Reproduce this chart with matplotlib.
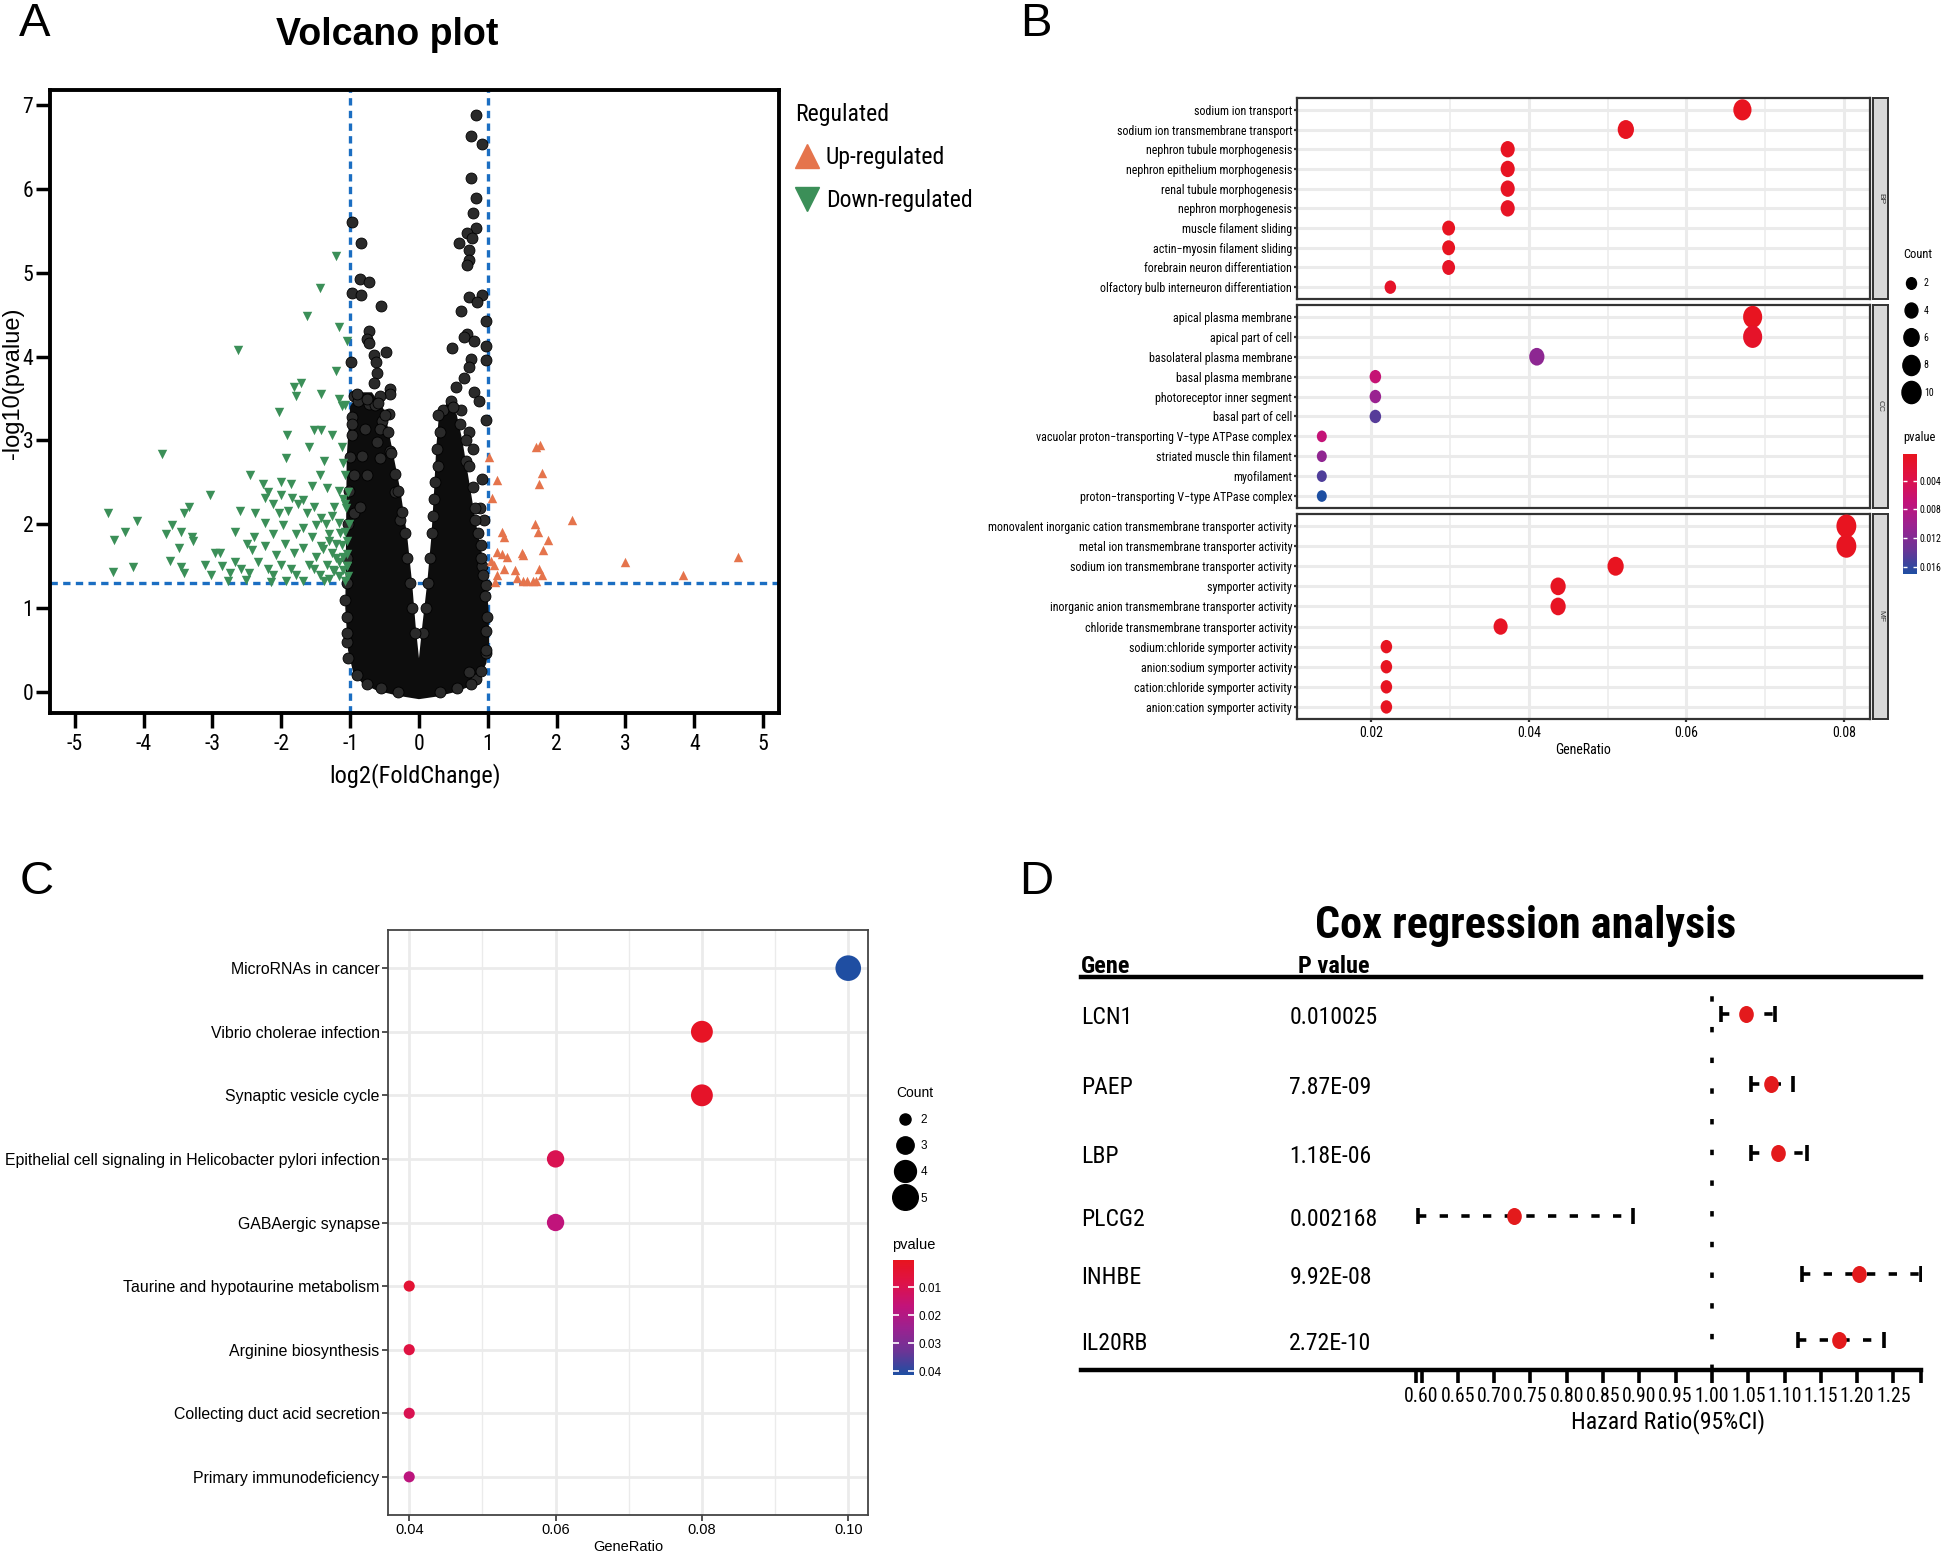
import numpy as np
import matplotlib
matplotlib.use('Agg')
import matplotlib.pyplot as plt
from matplotlib import font_manager
from matplotlib.font_manager import FontProperties
from matplotlib.colors import LinearSegmentedColormap, Normalize
from matplotlib.cm import ScalarMappable
from matplotlib.lines import Line2D
from matplotlib.markers import MarkerStyle
from matplotlib.path import Path
from matplotlib.transforms import Affine2D, blended_transform_factory

plt.rcParams['font.family'] = 'Liberation Sans'
plt.rcParams['axes.unicode_minus'] = False


def pick_narrow():
    # look for a narrow / condensed sans, the source figure uses one
    fl = font_manager.fontManager.ttflist
    for name, k in [('Liberation Sans Narrow', 1.0), ('Arial Narrow', 1.0), ('Roboto Condensed', 0.95)]:
        if any(f.name == name for f in fl):
            return {'family': name}, k
    for fam, k in [('Noto Sans', 0.93), ('Open Sans', 0.9), ('DejaVu Sans', 0.85), ('Roboto', 0.95)]:
        if any(f.name == fam and f.stretch == 'condensed' for f in fl):
            return {'family': fam, 'stretch': 'condensed'}, k
    for f in fl:
        if ('Condensed' in f.name or 'Narrow' in f.name) and 'Mono' not in f.name:
            return {'family': f.name}, 0.92
    return {'family': 'Liberation Sans'}, 0.82


NF, SQ = pick_narrow()


def nf(size, weight='normal'):
    return FontProperties(size=size * SQ, weight=weight, **NF)


# ---------------- A: volcano ----------------
# outline of the dense black cloud (non significant genes)
cloud_x = [0.0, 0.25, 0.5, 0.7, 0.85, 0.95, 0.99, 0.98, 0.92, 0.8, 0.7, 0.6, 0.52, 0.42, 0.32, 0.28,
           0.25, 0.21, 0.15, 0.08, 0.03, 0.0, -0.03, -0.08, -0.13, -0.2, -0.3, -0.42, -0.53, -0.7,
           -0.85, -0.97, -1.02, -1.03, -1.04, -1.0, -0.93, -0.8, -0.6, -0.3]
cloud_y = [-0.06, -0.03, 0.02, 0.08, 0.18, 0.35, 0.6, 1.0, 1.5, 2.0, 2.5, 3.0, 3.3, 3.42, 3.3, 2.9,
           2.4, 1.85, 1.3, 0.8, 0.4, 0.25, 0.4, 0.8, 1.3, 1.85, 2.4, 2.9, 3.35, 3.55, 3.55, 3.4,
           2.8, 1.8, 1.0, 0.5, 0.25, 0.12, 0.04, -0.02]
# single non significant points, outliers and the ragged edge of the cloud
ns_x = [0.83, 0.76, 0.91, 0.76, 0.83, 0.78, 0.83, 0.70, 0.77, 0.58, 0.72, 0.72, 0.70, 0.91, 0.72,
        0.85, 0.97, 0.61, 0.48, 0.70, 0.65, 0.80, 0.98, 0.98, 0.76, 0.72, 0.65, 0.54, 0.80, 0.87,
        0.46, 0.98, 0.35, 0.61, 0.91, 0.94, 0.91, 0.98, 0.98, 0.98, 0.83, 0.72, 0.78, 0.72, 0.68,
        0.88, 0.82, 0.90, 0.97, 0.99, 0.96, 0.93,
        -0.98, -0.84, -0.86, -0.73, -0.98, -0.84, -0.55, -0.73, -0.75, -0.72, -0.48, -0.66, -0.99,
        -0.63, -0.61, -0.66, -0.42, -0.42, -0.94, -0.89, -0.57, -0.72, -0.64, -0.97, -0.44, -0.53,
        -0.79, -0.57, -0.97, -0.61, -0.42, -0.83, -0.94, -0.57, -0.75, -0.35, -0.94, -0.27, -0.86,
        -1.05, -1.07, -1.04,
        0.28, 0.30, 0.26, 0.27, 0.24, 0.22, 0.20, 0.19, 0.16, 0.13, 0.10, 0.06,
        -0.50, -0.45, -0.40, -0.35, -0.30, -0.25, -0.20, -0.17, -0.13, -0.10, -0.06,
        0.90, 0.86, 0.82, 0.78, 0.72, 0.68, 0.60, 0.50,
        -0.90, -0.75, -0.55, -0.30, 0.30, 0.55, 0.75, 0.90,
        -1.03, -1.04, -1.05, -1.04, -1.03, -1.02, -1.00, -0.98, -0.60, -0.75, -0.90]
ns_y = [6.88, 6.63, 6.54, 6.13, 5.89, 5.71, 5.53, 5.47, 5.42, 5.35, 5.27, 5.15, 5.09, 4.73, 4.71,
        4.65, 4.43, 4.54, 4.10, 4.27, 4.24, 4.19, 4.13, 3.96, 3.97, 3.88, 3.75, 3.64, 3.58, 3.47,
        3.47, 3.25, 3.36, 3.36, 2.54, 2.05, 1.50, 1.28, 0.73, 0.46, 0.15, 0.24, 2.9, 3.1, 2.75,
        2.2, 2.05, 1.75, 0.5, 0.9, 1.15, 1.4,
        5.60, 5.36, 4.92, 4.89, 4.76, 4.73, 4.60, 4.30, 4.21, 4.16, 4.06, 4.02, 3.94,
        3.94, 3.80, 3.69, 3.61, 3.55, 3.53, 3.47, 3.53, 3.44, 3.42, 3.28, 3.31, 3.23,
        3.14, 3.14, 3.06, 2.98, 2.87, 2.81, 2.59, 2.79, 2.59, 2.38, 2.13, 2.05, 2.21,
        0.9, 1.1, 0.6,
        3.30, 3.10, 2.90, 2.70, 2.50, 2.30, 2.10, 1.90, 1.60, 1.30, 1.00, 0.70,
        3.30, 3.10, 2.85, 2.60, 2.40, 2.15, 1.90, 1.60, 1.30, 1.00, 0.70,
        1.60, 1.90, 2.20, 2.45, 2.70, 3.00, 3.20, 3.40,
        0.20, 0.10, 0.05, 0.00, 0.00, 0.05, 0.10, 0.25,
        0.40, 0.70, 1.30, 1.60, 2.00, 2.40, 2.80, 3.20, 3.45, 3.50, 3.55]
# down-regulated genes
down_x = [-1.20, -1.44, -1.63, -1.16, -1.05, -2.63, -1.20, -1.71, -1.81, -1.42, -1.78, -1.16, -1.07,
          -1.12, -2.04, -1.53, -1.42, -1.27, -1.91, -1.60, -1.12, -3.74, -1.38, -1.93, -1.10, -1.44,
          -2.46, -1.08, -2.27, -2.01, -1.86, -1.56, -1.34, -1.16, -1.03, -2.19, -2.01, -1.84, -1.68,
          -2.23, -3.04, -3.34, -2.12, -1.76, -1.53, -1.23, -1.08, -3.41, -4.52, -2.60, -2.38, -2.04,
          -1.90, -1.62, -1.42, -1.27, -4.09, -3.59, -2.23, -1.97, -1.68, -1.49, -1.16, -4.27, -3.45,
          -2.67, -2.12, -1.79, -1.56, -1.31, -1.08, -3.67, -3.30, -2.39, -4.43, -3.28, -2.50, -2.23,
          -1.95, -1.68, -1.42, -1.20, -1.05, -3.48, -2.97, -2.89, -2.43, -2.08, -1.82, -1.49, -1.27,
          -1.10, -3.62, -3.11, -2.67, -2.34, -2.01, -1.60, -1.34, -1.16, -4.16, -3.45, -2.86, -2.58,
          -2.19, -1.86, -1.53, -1.23, -1.04, -4.44, -3.41, -3.02, -2.75, -2.47, -2.12, -1.79, -1.44,
          -1.16, -2.77, -2.52, -2.15, -1.93, -1.68, -1.38, -1.08,
          -1.05, -1.05, -1.12, -1.02, -1.06, -1.10, -1.15, -1.20, -1.25, -1.03, -1.10, -1.30, -1.30,
          -1.35, -1.40]
down_y = [5.20, 4.82, 4.49, 4.35, 4.19, 4.08, 3.83, 3.69, 3.64, 3.55, 3.53, 3.50, 3.42,
          3.41, 3.34, 3.12, 3.12, 3.06, 3.06, 2.92, 2.92, 2.84, 2.76, 2.79, 2.73, 2.59,
          2.59, 2.59, 2.48, 2.51, 2.48, 2.46, 2.43, 2.40, 2.38, 2.38, 2.35, 2.32, 2.29,
          2.32, 2.35, 2.21, 2.24, 2.24, 2.21, 2.21, 2.24, 2.13, 2.13, 2.16, 2.13, 2.13,
          2.16, 2.13, 2.07, 2.10, 2.04, 1.99, 2.02, 1.99, 1.96, 1.99, 2.02, 1.91, 1.91,
          1.91, 1.88, 1.88, 1.85, 1.88, 1.91, 1.88, 1.85, 1.85, 1.81, 1.80, 1.77, 1.74,
          1.77, 1.72, 1.74, 1.77, 1.80, 1.72, 1.66, 1.66, 1.69, 1.63, 1.66, 1.61, 1.66,
          1.61, 1.56, 1.52, 1.55, 1.55, 1.52, 1.52, 1.52, 1.55, 1.49, 1.49, 1.50, 1.47,
          1.47, 1.47, 1.47, 1.44, 1.50, 1.43, 1.42, 1.40, 1.42, 1.42, 1.39, 1.39, 1.39,
          1.38, 1.33, 1.34, 1.31, 1.33, 1.32, 1.32, 1.33,
          1.50, 1.65, 1.75, 2.00, 2.20, 2.30, 1.90, 1.60, 1.45, 1.38, 1.45, 1.35, 1.80,
          2.00, 1.70]
# up-regulated genes
up_x = [1.70, 1.76, 1.02, 1.13, 1.78, 1.74, 1.06, 2.22, 1.69, 1.73, 1.20, 1.24, 1.88, 1.80, 1.13,
        1.20, 1.50, 1.51, 1.28, 1.04, 4.63, 2.99, 1.09, 1.74, 1.24, 1.39, 1.13, 3.84, 1.78, 1.42,
        1.65, 1.57, 1.51, 1.11, 1.70]
up_y = [2.92, 2.95, 2.80, 2.53, 2.61, 2.48, 2.31, 2.05, 2.00, 1.91, 1.91, 1.85, 1.81, 1.69, 1.67,
        1.65, 1.66, 1.63, 1.61, 1.56, 1.61, 1.55, 1.52, 1.47, 1.47, 1.45, 1.40, 1.40, 1.39, 1.36,
        1.33, 1.33, 1.32, 1.31, 1.33]
fc_cut = 1.0
p_cut = 1.3

# ---------------- B: GO dot plot ----------------
bp_terms = ['sodium ion transport', 'sodium ion transmembrane transport', 'nephron tubule morphogenesis',
            'nephron epithelium morphogenesis', 'renal tubule morphogenesis', 'nephron morphogenesis',
            'muscle filament sliding', 'actin\u2212myosin filament sliding',
            'forebrain neuron differentiation', 'olfactory bulb interneuron differentiation']
bp_ratio = [0.0671, 0.0523, 0.0373, 0.0373, 0.0373, 0.0373, 0.0298, 0.0298, 0.0298, 0.0224]
bp_count = [9, 7, 5, 5, 5, 5, 4, 4, 4, 3]
bp_p = [0.0004, 0.0005, 0.0006, 0.0006, 0.0007, 0.0008, 0.0005, 0.0005, 0.0009, 0.0012]

cc_terms = ['apical plasma membrane', 'apical part of cell', 'basolateral plasma membrane',
            'basal plasma membrane', 'photoreceptor inner segment', 'basal part of cell',
            'vacuolar proton\u2212transporting V\u2212type ATPase complex', 'striated muscle thin filament',
            'myofilament', 'proton\u2212transporting V\u2212type ATPase complex']
cc_ratio = [0.0684, 0.0684, 0.0410, 0.0205, 0.0205, 0.0205, 0.0137, 0.0137, 0.0137, 0.0137]
cc_count = [10, 10, 6, 3, 3, 3, 2, 2, 2, 2]
cc_p = [0.0004, 0.0012, 0.0112, 0.0066, 0.0104, 0.0145, 0.0068, 0.0110, 0.0148, 0.0170]

mf_terms = ['monovalent inorganic cation transmembrane transporter activity',
            'metal ion transmembrane transporter activity', 'sodium ion transmembrane transporter activity',
            'symporter activity', 'inorganic anion transmembrane transporter activity',
            'chloride transmembrane transporter activity', 'sodium:chloride symporter activity',
            'anion:sodium symporter activity', 'cation:chloride symporter activity',
            'anion:cation symporter activity']
mf_ratio = [0.0803, 0.0803, 0.0510, 0.0437, 0.0437, 0.0364, 0.0219, 0.0219, 0.0219, 0.0219]
mf_count = [11, 11, 7, 6, 6, 5, 3, 3, 3, 3]
mf_p = [0.0004, 0.0005, 0.0004, 0.0006, 0.0007, 0.0008, 0.0005, 0.0005, 0.0006, 0.0006]

go_p_range = (0.0003, 0.0170)
go_p_ticks = [0.004, 0.008, 0.012, 0.016]
go_count_legend = [2, 4, 6, 8, 10]

# ---------------- C: KEGG dot plot ----------------
kegg_terms = ['MicroRNAs in cancer', 'Vibrio cholerae infection', 'Synaptic vesicle cycle',
              'Epithelial cell signaling in Helicobacter pylori infection', 'GABAergic synapse',
              'Taurine and hypotaurine metabolism', 'Arginine biosynthesis',
              'Collecting duct acid secretion', 'Primary immunodeficiency']
kegg_ratio = [0.10, 0.08, 0.08, 0.06, 0.06, 0.04, 0.04, 0.04, 0.04]
kegg_count = [5, 4, 4, 3, 3, 2, 2, 2, 2]
kegg_p = [0.0410, 0.0015, 0.0025, 0.0100, 0.0170, 0.0045, 0.0075, 0.0100, 0.0180]
kegg_p_range = (0.0003, 0.0413)
kegg_p_ticks = [0.01, 0.02, 0.03, 0.04]
kegg_count_legend = [2, 3, 4, 5]

# ---------------- D: Cox regression ----------------
genes = ['LCN1', 'PAEP', 'LBP', 'PLCG2', 'INHBE', 'IL20RB']
pvals_txt = ['0.010025', '7.87E-09', '1.18E-06', '0.002168', '9.92E-08', '2.72E-10']
hr = np.array([1.047, 1.082, 1.091, 0.727, 1.202, 1.175])
hr_lo = np.array([1.012, 1.054, 1.054, 0.595, 1.124, 1.118])
hr_hi = np.array([1.087, 1.112, 1.131, 0.891, 1.288, 1.237])
hr_ticks = np.round(np.arange(0.60, 1.2501, 0.05), 2)
# row positions of the forest plot (the rows are not evenly spaced in the source)
row_y = np.array([0.0, 1.08, 2.13, 3.10, 3.99, 5.0])

# ---------------- drawing ----------------
W, H = 1944, 1568
fig = plt.figure(figsize=(W / 100, H / 100), dpi=100)


def box(l, t, r, b):
    return [l / W, 1 - b / H, (r - l) / W, (b - t) / H]


# tall ellipse marker, the source image is squeezed sideways
ELL = MarkerStyle(Path.unit_circle().transformed(Affine2D().scale(0.86, 1.0)))

cmap = LinearSegmentedColormap.from_list(
    'pv', ['#E8141F', '#DE1248', '#C2137A', '#9A2290', '#6A3596', '#1D4FA2'])

# panel letters
for lab, x, y in [('A', 35, 24), ('B', 1036, 24), ('C', 37, 882), ('D', 1036, 882)]:
    fig.text(x / W, 1 - y / H, lab, fontsize=34, ha='center', va='center')

# ---- A ----
axA = fig.add_axes(box(50, 90, 779, 713))
axA.fill(cloud_x, cloud_y, color='#0d0d0d', lw=3, zorder=2)
axA.scatter(ns_x, ns_y, s=62, c='#2a2a2a', edgecolors='black', linewidths=0.6, zorder=3)
axA.scatter(down_x, down_y, marker='v', s=46, c='#3b8f58', lw=0, zorder=3)
axA.scatter(up_x, up_y, marker='^', s=46, c='#e5744c', lw=0, zorder=3)
for v in (-fc_cut, fc_cut):
    axA.axvline(v, color='#1b6ec2', lw=2.4, ls=(0, (2.2, 1.6)), zorder=1)
axA.axhline(p_cut, color='#1b6ec2', lw=2.4, ls=(0, (2.2, 1.6)), zorder=1)
axA.set_xlim(-5.36, 5.23)
axA.set_ylim(-0.25, 7.18)
axA.set_xticks(range(-5, 6))
axA.set_yticks(range(0, 8))
for s in axA.spines.values():
    s.set_linewidth(2.8)
axA.tick_params(width=2.5, length=11, pad=4)
axA.tick_params(axis='y', length=10, pad=2)
for t in axA.get_xticklabels() + axA.get_yticklabels():
    t.set_fontproperties(nf(16.5))
axA.set_xlabel('log2(FoldChange)', fontproperties=nf(18.5), labelpad=6)
axA.set_ylabel('-log10(pvalue)', fontsize=17)
axA.yaxis.set_label_coords(-0.036, 0.53)
fig.text(387 / W, 1 - 35 / H, 'Volcano plot', fontsize=27, weight='bold', ha='center', va='center')

legA = [Line2D([], [], ls='', marker='^', ms=17, color='#e5744c'),
        Line2D([], [], ls='', marker='v', ms=17, color='#3b8f58')]
fig.legend(legA, ['Up-regulated', 'Down-regulated'], title='Regulated', loc='upper left',
           bbox_to_anchor=(783 / W, 1 - 91 / H), frameon=False, alignment='left',
           prop=nf(18), title_fontproperties=nf(18),
           handletextpad=0.3, handlelength=1.0, labelspacing=0.85, borderpad=0)

# ---- B ----
normB = Normalize(*go_p_range)


def size_b(c):
    return 70 + (np.asarray(c) - 2) * (255 - 70) / 8


groups = [('BP', bp_terms, bp_ratio, bp_count, bp_p, 98, 299),
          ('CC', cc_terms, cc_ratio, cc_count, cc_p, 305, 508),
          ('MF', mf_terms, mf_ratio, mf_count, mf_p, 514, 719)]
for i, (lab, terms, ratio, count, p, t, b) in enumerate(groups):
    ax = fig.add_axes(box(1297, t, 1870, b))
    y = np.arange(len(terms))
    ax.scatter(ratio, y, s=size_b(count), c=p, cmap=cmap, norm=normB, marker=ELL, lw=0, zorder=3)
    ax.set_xlim(0.01055, 0.0833)
    ax.set_ylim(len(terms) - 0.4, -0.6)
    ax.set_yticks(y)
    ax.set_yticklabels(terms, fontproperties=nf(9.1))
    ax.set_xticks([0.02, 0.04, 0.06, 0.08])
    ax.set_xticks([0.03, 0.05, 0.07], minor=True)
    ax.grid(which='major', color='#ebebeb', lw=2.2)
    ax.grid(which='minor', axis='x', color='#ebebeb', lw=1.1)
    ax.set_axisbelow(True)
    for s in ax.spines.values():
        s.set_linewidth(1.6)
        s.set_color('#333333')
    ax.tick_params(axis='y', length=2.5, width=1.6, color='#333333', pad=1)
    ax.tick_params(axis='x', which='minor', length=0)
    if i < 2:
        ax.tick_params(axis='x', which='both', bottom=False, labelbottom=False)
    else:
        ax.tick_params(axis='x', length=2.5, width=1.6, color='#333333', pad=2.5)
        ax.set_xticklabels(['0.02', '0.04', '0.06', '0.08'], fontproperties=nf(10.5))
        ax.set_xlabel('GeneRatio', fontproperties=nf(10.5), labelpad=2)
    sax = fig.add_axes(box(1873, t, 1888, b))
    sax.set_facecolor('#d9d9d9')
    sax.set_xticks([])
    sax.set_yticks([])
    for s in sax.spines.values():
        s.set_linewidth(1.4)
        s.set_color('#333333')
    sax.text(0.5, 0.5, lab, rotation=-90, ha='center', va='center', fontsize=6, color='#333333',
             transform=sax.transAxes)

legB = [Line2D([], [], ls='', marker=ELL, color='black', ms=np.sqrt(size_b(c))) for c in go_count_legend]
fig.legend(legB, [str(c) for c in go_count_legend], title='Count', loc='upper left',
           bbox_to_anchor=(1898 / W, 1 - 243 / H), frameon=False, alignment='left',
           prop=nf(7.5), title_fontproperties=nf(9.5),
           handletextpad=0.5, handlelength=1.6, labelspacing=1.75, borderpad=0)

fig.text(1903 / W, 1 - 438 / H, 'pvalue', fontproperties=nf(9.5), va='center')
caxB = fig.add_axes(box(1903, 454, 1917, 574))
cbB = fig.colorbar(ScalarMappable(norm=normB, cmap=cmap), cax=caxB, ticks=go_p_ticks)
caxB.invert_yaxis()
cbB.outline.set_visible(False)
caxB.yaxis.set_ticks_position('both')
caxB.tick_params(direction='in', color='white', length=3, width=1, pad=2)
caxB.set_yticklabels([str(v) for v in go_p_ticks], fontproperties=nf(7.5))

# ---- C ----
normC = Normalize(*kegg_p_range)


def size_c(c):
    return 64 + (np.asarray(c) - 2) * (340 - 64) / 3


axC = fig.add_axes(box(388, 930, 868, 1515))
yc = np.arange(len(kegg_terms))
axC.scatter(kegg_ratio, yc, s=size_c(kegg_count), c=kegg_p, cmap=cmap, norm=normC, lw=0, zorder=3)
axC.set_xlim(0.0371, 0.1027)
axC.set_ylim(len(kegg_terms) - 0.4, -0.6)
axC.set_yticks(yc)
axC.set_yticklabels(kegg_terms, fontsize=11.4)
axC.set_xticks([0.04, 0.06, 0.08, 0.10])
axC.set_xticklabels(['0.04', '0.06', '0.08', '0.10'], fontsize=10.5)
axC.set_xticks([0.05, 0.07, 0.09], minor=True)
axC.grid(which='major', color='#ebebeb', lw=2.0)
axC.grid(which='minor', axis='x', color='#ebebeb', lw=1.0)
axC.set_axisbelow(True)
for s in axC.spines.values():
    s.set_linewidth(1.3)
    s.set_color('#444444')
axC.tick_params(length=4, width=1.2, color='#333333', pad=2)
axC.tick_params(which='minor', length=0)
axC.set_xlabel('GeneRatio', fontsize=10.5, labelpad=2)

legC = [Line2D([], [], ls='', marker='o', color='black', ms=np.sqrt(size_c(c))) for c in kegg_count_legend]
fig.legend(legC, [str(c) for c in kegg_count_legend], title='Count', loc='upper left',
           bbox_to_anchor=(890 / W, 1 - 1080 / H), frameon=False, alignment='left',
           prop={'size': 8.5}, title_fontproperties={'size': 10},
           handletextpad=0.5, handlelength=1.6, labelspacing=1.2, borderpad=0)
fig.text(892 / W, 1 - 1245 / H, 'pvalue', fontsize=10.5, va='center')
caxC = fig.add_axes(box(893, 1260, 914, 1375))
cbC = fig.colorbar(ScalarMappable(norm=normC, cmap=cmap), cax=caxC, ticks=kegg_p_ticks)
caxC.invert_yaxis()
cbC.outline.set_visible(False)
caxC.yaxis.set_ticks_position('both')
caxC.tick_params(direction='in', color='white', length=4, width=1.2, labelsize=8.5, pad=3)
caxC.set_yticklabels([str(v) for v in kegg_p_ticks])

# ---- D ----
axD = fig.add_axes(box(1081, 977, 1921, 1370))
axD.set_xlim(0.131, 1.288)
axD.set_ylim(5.46, -0.567)
axD.axvline(1.0, color='black', lw=2.6, ls=(0, (1.5, 7.0)), zorder=1)
eb = axD.errorbar(hr, row_y, xerr=[hr - hr_lo, hr_hi - hr], fmt='none', ecolor='black',
                  elinewidth=2.6, capsize=5.5, capthick=2.6, zorder=2)
eb.lines[2][0].set_linestyle((0, (2.3, 3.7)))
axD.scatter(hr, row_y, marker=ELL, s=150, c='#e31a1c', lw=0, zorder=4)
for s in ('left', 'right'):
    axD.spines[s].set_visible(False)
for s in ('top', 'bottom'):
    axD.spines[s].set_linewidth(3.2)
axD.set_yticks([])
axD.set_xticks(hr_ticks)
axD.set_xticklabels(['%.2f' % v for v in hr_ticks], fontproperties=nf(15))
axD.set_xticks([0.593, 1.288], minor=True)
axD.tick_params(axis='x', which='both', length=9, width=2.6, pad=3)
axD.set_xlabel('Hazard Ratio(95%CI)', fontproperties=nf(18), labelpad=2)
axD.xaxis.set_label_coords(0.699, -0.1)
tr = blended_transform_factory(axD.transAxes, axD.transData)
for r, g, pv in zip(row_y, genes, pvals_txt):
    axD.text(0.0, r + 0.05, g, transform=tr, fontproperties=nf(18), va='center', ha='left')
    axD.text(0.248, r + 0.05, pv, transform=tr, fontproperties=nf(18), va='center', ha='left')
axD.text(0.0, 0.997, 'Gene', transform=axD.transAxes, fontproperties=nf(18.5, 'bold'),
         va='bottom', ha='left')
axD.text(0.258, 0.997, 'P value', transform=axD.transAxes, fontproperties=nf(18.5, 'bold'),
         va='bottom', ha='left')
fig.text(1526 / W, 1 - 926 / H, 'Cox regression analysis', fontproperties=nf(33.5, 'bold'),
         ha='center', va='center')

fig.savefig('out.png', dpi=100)
